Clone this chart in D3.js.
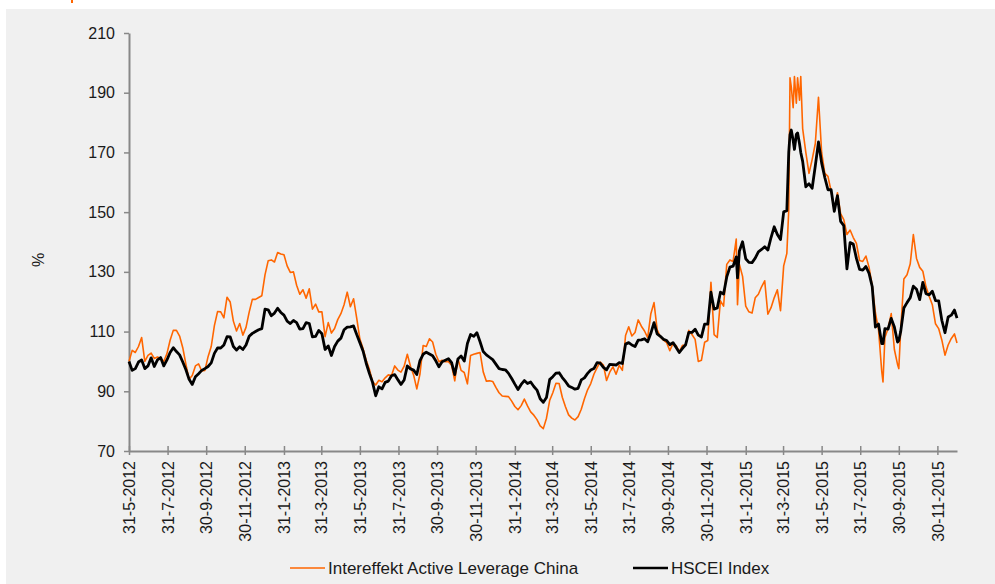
<!DOCTYPE html>
<html>
<head>
<meta charset="utf-8">
<script src="https://cdn.jsdelivr.net/npm/d3@7"></script>
<style>
  body { margin: 0; background: #ffffff; }
  svg { display: block; font-family: "Liberation Sans", Arial, sans-serif; }
</style>
</head>
<body>
<figure id="chart" style="margin:0"></figure>
<script>
// dates of the readings (d-m-y in the picture, ISO here)
const dates = [
  "2012-05-31","2012-06-05","2012-06-10","2012-06-15","2012-06-20","2012-06-25","2012-06-30",
  "2012-07-05","2012-07-10","2012-07-15","2012-07-20","2012-07-25","2012-07-30",
  "2012-08-04","2012-08-09","2012-08-14","2012-08-19","2012-08-24","2012-08-29",
  "2012-09-03","2012-09-08","2012-09-13","2012-09-18","2012-09-23","2012-09-28",
  "2012-10-03","2012-10-08","2012-10-13","2012-10-18","2012-10-23","2012-10-28",
  "2012-11-02","2012-11-07","2012-11-12","2012-11-17","2012-11-22","2012-11-27",
  "2012-12-02","2012-12-07","2012-12-12","2012-12-17","2012-12-22","2012-12-27",
  "2013-01-01","2013-01-06","2013-01-11","2013-01-16","2013-01-21","2013-01-26","2013-01-31",
  "2013-02-05","2013-02-10","2013-02-15","2013-02-20","2013-02-25",
  "2013-03-02","2013-03-07","2013-03-12","2013-03-17","2013-03-22","2013-03-27",
  "2013-04-01","2013-04-06","2013-04-11","2013-04-16","2013-04-21","2013-04-26",
  "2013-05-01","2013-05-06","2013-05-11","2013-05-16","2013-05-21","2013-05-26","2013-05-31",
  "2013-06-05","2013-06-10","2013-06-15","2013-06-20","2013-06-25","2013-06-30",
  "2013-07-05","2013-07-10","2013-07-15","2013-07-20","2013-07-25","2013-07-30",
  "2013-08-04","2013-08-09","2013-08-14","2013-08-19","2013-08-24","2013-08-29",
  "2013-09-03","2013-09-08","2013-09-13","2013-09-18","2013-09-23","2013-09-28",
  "2013-10-03","2013-10-08","2013-10-13","2013-10-18","2013-10-23","2013-10-28",
  "2013-11-02","2013-11-07","2013-11-12","2013-11-17","2013-11-22","2013-11-27",
  "2013-12-02","2013-12-07","2013-12-12","2013-12-17","2013-12-22","2013-12-27",
  "2014-01-01","2014-01-06","2014-01-11","2014-01-16","2014-01-21","2014-01-26","2014-01-31",
  "2014-02-05","2014-02-10","2014-02-15","2014-02-20","2014-02-25",
  "2014-03-02","2014-03-07","2014-03-12","2014-03-17","2014-03-22","2014-03-27",
  "2014-04-01","2014-04-06","2014-04-11","2014-04-16","2014-04-21","2014-04-26",
  "2014-05-01","2014-05-06","2014-05-11","2014-05-16","2014-05-21","2014-05-26","2014-05-31",
  "2014-06-05","2014-06-10","2014-06-15","2014-06-20","2014-06-25","2014-06-30",
  "2014-07-05","2014-07-10","2014-07-15","2014-07-20","2014-07-25","2014-07-30",
  "2014-08-04","2014-08-09","2014-08-14","2014-08-19","2014-08-24","2014-08-29",
  "2014-09-03","2014-09-08","2014-09-13","2014-09-18","2014-09-23","2014-09-28",
  "2014-10-03","2014-10-08","2014-10-13","2014-10-18","2014-10-23","2014-10-28",
  "2014-11-02","2014-11-07","2014-11-12","2014-11-17","2014-11-22","2014-11-27",
  "2014-12-02","2014-12-07","2014-12-12","2014-12-17","2014-12-22","2014-12-27",
  "2015-01-01","2015-01-06","2015-01-11","2015-01-16","2015-01-18","2015-01-21","2015-01-26","2015-01-31",
  "2015-02-05","2015-02-10","2015-02-15","2015-02-20","2015-02-25",
  "2015-03-02","2015-03-07","2015-03-12","2015-03-17","2015-03-22","2015-03-27",
  "2015-04-01","2015-04-06","2015-04-09","2015-04-11","2015-04-13","2015-04-16","2015-04-18",
  "2015-04-21","2015-04-23","2015-04-26","2015-04-28",
  "2015-05-01","2015-05-06","2015-05-11","2015-05-16","2015-05-21","2015-05-26","2015-05-31",
  "2015-06-05","2015-06-10","2015-06-15","2015-06-20","2015-06-25","2015-06-30",
  "2015-07-05","2015-07-10","2015-07-15","2015-07-20","2015-07-25","2015-07-30",
  "2015-08-04","2015-08-09","2015-08-14","2015-08-19","2015-08-24","2015-08-29",
  "2015-09-03","2015-09-05","2015-09-08","2015-09-13","2015-09-18","2015-09-23","2015-09-28","2015-09-30",
  "2015-10-03","2015-10-08","2015-10-13","2015-10-18","2015-10-23","2015-10-28",
  "2015-11-02","2015-11-07","2015-11-12","2015-11-17","2015-11-22","2015-11-27",
  "2015-12-02","2015-12-07","2015-12-12","2015-12-17","2015-12-22","2015-12-27","2015-12-31"
];

// Intereffekt Active Leverage China (orange)
const intereffekt = [
  100,103.7,103,105,108,100,102,
  102.8,101,101.5,101,100,102.6,
  107.1,110.4,110.4,108.5,104.6,99,
  94,95.3,98.5,99.2,96.8,97,
  101.6,105,112,116.7,116.6,114.6,
  121.5,119.9,113.5,110.2,112.7,108.8,
  111.4,116.5,120.8,120.8,121.4,122,
  129,133.7,134,133.3,136.5,136,135.7,
  132,129.8,130,125.5,122.5,
  124,121.2,124.3,117.5,119.2,116.6,
  116.6,108.3,113,109.5,111,114,
  116,119,123.2,118.3,121,114.5,107.5,
  104.3,100.4,97.4,93.3,92.1,93.7,
  93.2,94.5,95.5,95.3,98.5,97.1,
  96.4,98.4,102.4,98.4,95.4,90.8,
  95.8,105.3,105,107.6,106.5,102.4,
  99.9,100.4,99.9,99.9,98.7,93.5,
  101,97,96.3,92.5,102,102.4,
  102.7,103,96.5,93.4,93.5,93.3,
  91.3,89.5,88.4,88.3,88.2,86.7,84.9,
  83.8,85.2,87.4,85.1,83.1,
  82,80.5,78.4,77.5,81,86.9,
  89.5,92.7,92.6,88,84.8,82.1,
  81,80.4,81.5,84,87.5,90.5,92.6,
  95.7,97.9,99.8,98.8,93.6,96.4,
  98.2,95.7,98.7,97,108.7,111.6,
  108.5,109.7,113.9,111.8,110.2,108,
  116,119.7,110.6,108.2,107.1,106.3,
  103.6,106,105.3,103.2,105.4,105.4,
  110.4,109,107.4,100,100.4,106.4,
  107,126.5,109,108,120.3,118.5,
  132.5,134,133.5,141,119,132.5,128.5,118.5,
  116.6,116.2,121.3,122.5,125,
  127,115.8,118,121.3,124,117,
  132,136.2,150.7,195,192,185,195.4,
  186.5,195,187.5,195.4,
  178,170,163,167.6,173,188.5,170,
  163,162,157,150.5,156.5,149.5,
  147.5,142.5,144,141.5,139.5,133.8,
  133.5,135.3,131.5,125.3,116.3,110.5,
  96.7,93.1,108,111,116,104,99,97.6,
  110.5,127.6,129,132.6,142.5,134.5,
  131.5,130.2,125,121.8,119,112.6,
  111,107.2,102.1,105.5,107.7,109.2,106.2
];

// HSCEI Index (black)
const hscei = [
  100,97,97.6,99.8,100.5,97.6,98.5,
  101.2,98.3,100.5,101.3,98.5,100.5,
  103,104.6,103.3,102.2,99.8,97.2,
  94,92.3,94.9,95.9,97,97.6,
  98.3,99.5,102.7,104.5,104.5,105.5,
  108.3,108.2,105,103.8,104.9,104,
  105.5,108.4,109.4,110,110.6,111,
  117.5,117.3,115.3,116.2,117.8,116.4,115.5,
  113.5,112.7,113.7,113,110.8,
  111,113,112.7,108.2,108.4,110.4,
  109.3,104,105.2,102,105,106.8,
  107.8,110.6,111.5,111.6,111.9,109,106.3,
  103.5,99.4,96,93,88.5,91.5,
  90.8,93,93.4,95.2,95.6,93.9,
  92.3,93.8,98.5,97.5,97.1,95.6,
  100.3,102.4,103.1,102.5,101.9,100.2,
  98.2,99.9,100.4,100.9,99.6,95.6,
  100.8,101.8,100.1,106,109,108.4,
  109.6,106.6,103.3,102.2,101.4,100.6,
  99.1,97.6,97.3,97.2,96,94.3,92.4,
  90.6,92.3,93.6,92.6,93.1,
  91.6,90.4,87.5,86.3,87.9,93.9,
  94.9,96.1,96.2,94.6,93.3,91.8,
  91.3,90.7,91,93.8,94.5,96,97.1,
  97.6,99.6,99.4,98,97.2,99,
  98.9,98.8,99.6,99.3,105.8,106.3,
  105.5,105,107.1,107.2,107.6,106.6,
  109.4,113,109.2,108.4,107.4,107,
  105.6,106.3,104.7,103,104.4,105.6,
  109.7,109.7,110.8,108.8,108.2,112.5,
  112.5,123.2,117.5,117.9,123.2,122.6,
  128.3,131.6,131.9,135,128,137,140.1,134.4,
  133.2,133.1,134.6,136.7,137.5,
  138.4,137.3,141.5,145.1,142.5,140.8,
  150.1,150.5,170,176,177.5,174,171,
  176,176.5,173,170,
  167,158.5,159.5,158,165.5,173.5,166.5,
  161.6,157.5,157.5,150.3,155.5,146.9,
  145.5,131,139.8,139.3,134.5,130.8,
  130.6,131.8,129.5,125,111.5,112.5,
  106,106,111,110.8,114.4,111.5,106.5,107,
  110,117.9,119.7,121.3,125.2,124.2,
  120.7,126.5,122.7,122.3,123.5,120.4,
  120.3,113.8,109.6,114.9,115.5,117.2,114.5
];

const yTicks = [70, 90, 110, 130, 150, 170, 190, 210];
const xTickDates = [
  "2012-05-31","2012-07-31","2012-09-30","2012-11-30",
  "2013-01-31","2013-03-31","2013-05-31","2013-07-31","2013-09-30","2013-11-30",
  "2014-01-31","2014-03-31","2014-05-31","2014-07-31","2014-09-30","2014-11-30",
  "2015-01-31","2015-03-31","2015-05-31","2015-07-31","2015-09-30","2015-11-30"
];
const seriesNames = ["Intereffekt Active Leverage China", "HSCEI Index"];
const seriesColors = ["#ff6600", "#000000"];

const width = 995, height = 584;
const plotLeft = 129, plotRight = 957, plotTop = 33, plotBottom = 451;

const parse = d3.timeParse("%Y-%m-%d");
const fmt = d3.timeFormat("%-d-%-m-%Y");

const svg = d3.select("#chart")
  .append("svg")
  .attr("width", width)
  .attr("height", height);

// panel background
svg.append("rect")
  .attr("x", 6).attr("y", 9)
  .attr("width", width - 6).attr("height", height - 9)
  .attr("fill", "#f0f0f0");
// small orange mark top-left (cut-off title accent)
svg.append("rect")
  .attr("x", 71).attr("y", 0).attr("width", 2).attr("height", 3)
  .attr("fill", "#ff6600");

const x = d3.scaleTime()
  .domain([parse("2012-05-31"), parse("2015-12-31")])
  .range([plotLeft, plotRight]);

const y = d3.scaleLinear()
  .domain([70, 210])
  .range([plotBottom, plotTop]);

// y axis
const gy = svg.append("g")
  .attr("transform", "translate(" + plotLeft + ",0)")
  .call(d3.axisLeft(y).tickValues(yTicks).tickSize(5).tickSizeOuter(0).tickPadding(9));
gy.select(".domain").attr("stroke", "#888").attr("stroke-width", 2);
gy.selectAll(".tick line").attr("stroke", "#888").attr("stroke-width", 1.5);
gy.selectAll("text").attr("font-size", 16).attr("fill", "#1a1a1a")
  .attr("font-family", "Liberation Sans, Arial, sans-serif");

// x axis
const gx = svg.append("g")
  .attr("transform", "translate(0," + plotBottom + ")")
  .call(d3.axisBottom(x).tickValues(xTickDates.map(parse)).tickFormat(fmt).tickSizeOuter(0));
gx.select(".domain").attr("stroke", "#888").attr("stroke-width", 2);
gx.selectAll(".tick line").attr("stroke", "#888").attr("stroke-width", 1.5)
  .attr("y1", -5).attr("y2", 4);
gx.selectAll("text")
  .attr("font-size", 16).attr("fill", "#1a1a1a")
  .attr("font-family", "Liberation Sans, Arial, sans-serif")
  .attr("transform", "rotate(-90)")
  .attr("text-anchor", "end")
  .attr("x", -10).attr("y", 0).attr("dy", "0.35em");

// y label
svg.append("text")
  .attr("transform", "translate(38,260) rotate(-90)")
  .attr("text-anchor", "middle")
  .attr("dy", "0.35em")
  .attr("font-size", 16)
  .attr("fill", "#1a1a1a")
  .text("%");

// lines
const series = [intereffekt, hscei];
const widths = [1.6, 2.8];
series.forEach((vals, i) => {
  const line = d3.line()
    .x((d, j) => x(parse(dates[j])))
    .y(d => y(d));
  svg.append("path")
    .datum(vals)
    .attr("fill", "none")
    .attr("stroke", seriesColors[i])
    .attr("stroke-width", widths[i])
    .attr("stroke-linejoin", "round")
    .attr("d", line);
});

// legend
const legendX = [290, 633];
seriesNames.forEach((name, i) => {
  const g = svg.append("g").attr("transform", "translate(" + legendX[i] + ",568)");
  g.append("line")
    .attr("x1", 0).attr("x2", 35)
    .attr("stroke", seriesColors[i]).attr("stroke-width", i === 0 ? 1.6 : 2.4);
  g.append("text")
    .attr("x", 38).attr("dy", "0.35em")
    .attr("font-size", 17).attr("fill", "#1a1a1a")
    .text(name);
});
</script>
</body>
</html>
